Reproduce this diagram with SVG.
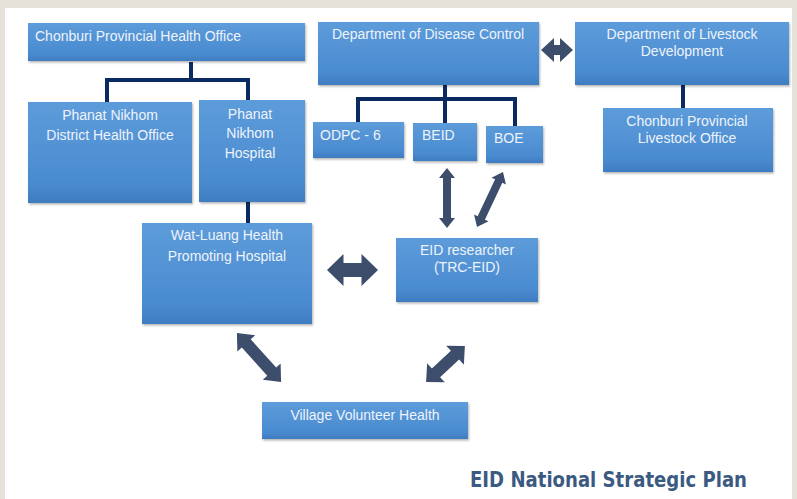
<svg xmlns="http://www.w3.org/2000/svg" width="797" height="499" viewBox="0 0 797 499">
<defs>
<linearGradient id="bg" x1="0" y1="0" x2="0" y2="1">
<stop offset="0" stop-color="#5d9cda"/>
<stop offset="0.8" stop-color="#4a8bd0"/>
<stop offset="1" stop-color="#3f7cc0"/>
</linearGradient>
<filter id="sh" x="-5%" y="-5%" width="110%" height="115%">
<feDropShadow dx="1" dy="1.5" stdDeviation="1.2" flood-color="#000" flood-opacity="0.3"/>
</filter>
</defs>
<style>
.box{fill:url(#bg);filter:url(#sh)}
.t{font-family:"Liberation Sans",Arial,sans-serif;font-size:14px;fill:#eef3fb}
.c{text-anchor:middle}
.ln{stroke:#0c2a62;stroke-width:4;fill:none}
.ar{fill:#3d4e6c}
.title{font-family:"DejaVu Sans",Verdana,sans-serif;font-weight:bold;font-size:20.5px;fill:#3b5a82}
</style>
<rect width="797" height="499" fill="#e4e2d9"/>
<rect x="5" y="8" width="787" height="491" fill="#ffffff"/>

<g id="connectors">
<path class="ln" d="M191,62 V80 M107,80 H250 M107,78 V102 M248,78 V100"/>
<path class="ln" d="M248,202 V223"/>
<path class="ln" d="M445,85 V123 M356,99 H517 M358,97 V122 M515,97 V126"/>
<path class="ln" d="M683,85 V108"/>
<path class="ar" transform="translate(557,50)" d="M-16,0 L-3,-12 L-3,-5 L3,-5 L3,-12 L16,0 L3,12 L3,5 L-3,5 L-3,12 Z"/>
<path class="ar" transform="translate(352.5,270)" d="M-25.5,0 L-9,-16 L-9,-7 L9,-7 L9,-16 L25.5,0 L9,16 L9,7 L-9,7 L-9,16 Z"/>
<path class="ar" transform="translate(447,198) rotate(90)" d="M-30,0 L-20,-8 L-20,-4 L20,-4 L20,-8 L30,0 L20,8 L20,4 L-20,4 L-20,8 Z"/>
<path class="ar" transform="translate(490,199.5) rotate(115.3)" d="M-30.4,0 L-20.4,-8 L-20.4,-4 L20.4,-4 L20.4,-8 L30.4,0 L20.4,8 L20.4,4 L-20.4,4 L-20.4,8 Z"/>
<path class="ar" transform="translate(259,357.5) rotate(48)" d="M-33,0 L-19,-12 L-19,-6 L19,-6 L19,-12 L33,0 L19,12 L19,6 L-19,6 L-19,12 Z"/>
<path class="ar" transform="translate(445.5,364) rotate(137)" d="M-26.5,0 L-13,-13 L-13,-6 L13,-6 L13,-13 L26.5,0 L13,13 L13,6 L-13,6 L-13,13 Z"/>
</g>

<g id="chonburi-health">
<rect class="box" x="28" y="23" width="277" height="38"/>
<text class="t" x="35" y="41">Chonburi Provincial Health Office</text>
</g>
<g id="district-health">
<rect class="box" x="28" y="102" width="164" height="101"/>
<text class="t c" x="110" y="120">Phanat Nikhom</text>
<text class="t c" x="110" y="140">District Health Office</text>
</g>
<g id="nikhom-hospital">
<rect class="box" x="199" y="100" width="106" height="102"/>
<text class="t c" x="250" y="119">Phanat</text>
<text class="t c" x="250" y="138">Nikhom</text>
<text class="t c" x="250" y="158">Hospital</text>
</g>
<g id="ddc">
<rect class="box" x="318" y="22" width="221" height="63"/>
<text class="t c" x="428" y="39">Department of Disease Control</text>
</g>
<g id="dld">
<rect class="box" x="575" y="22" width="214" height="63"/>
<text class="t c" x="682" y="39">Department of Livestock</text>
<text class="t c" x="682" y="56">Development</text>
</g>
<g id="livestock-office">
<rect class="box" x="603" y="108" width="170" height="64"/>
<text class="t c" x="687" y="126">Chonburi Provincial</text>
<text class="t c" x="687" y="143">Livestock Office</text>
</g>
<g id="odpc">
<rect class="box" x="313" y="122" width="91" height="36"/>
<text class="t" x="320" y="140">ODPC - 6</text>
</g>
<g id="beid">
<rect class="box" x="413" y="123" width="64" height="38"/>
<text class="t" x="422" y="140">BEID</text>
</g>
<g id="boe">
<rect class="box" x="486" y="126" width="57" height="37"/>
<text class="t" x="494" y="143">BOE</text>
</g>
<g id="wat-luang">
<rect class="box" x="142" y="223" width="170" height="101"/>
<text class="t c" x="227" y="240">Wat-Luang Health</text>
<text class="t c" x="227" y="261">Promoting Hospital</text>
</g>
<g id="eid-researcher">
<rect class="box" x="396" y="238" width="142" height="64"/>
<text class="t c" x="467" y="255">EID researcher</text>
<text class="t c" x="467" y="272">(TRC-EID)</text>
</g>
<g id="village">
<rect class="box" x="262" y="402" width="206" height="37"/>
<text class="t c" x="365" y="420">Village Volunteer Health</text>
</g>
<text class="title" x="470" y="487" textLength="277" lengthAdjust="spacingAndGlyphs">EID National Strategic Plan</text>
</svg>
